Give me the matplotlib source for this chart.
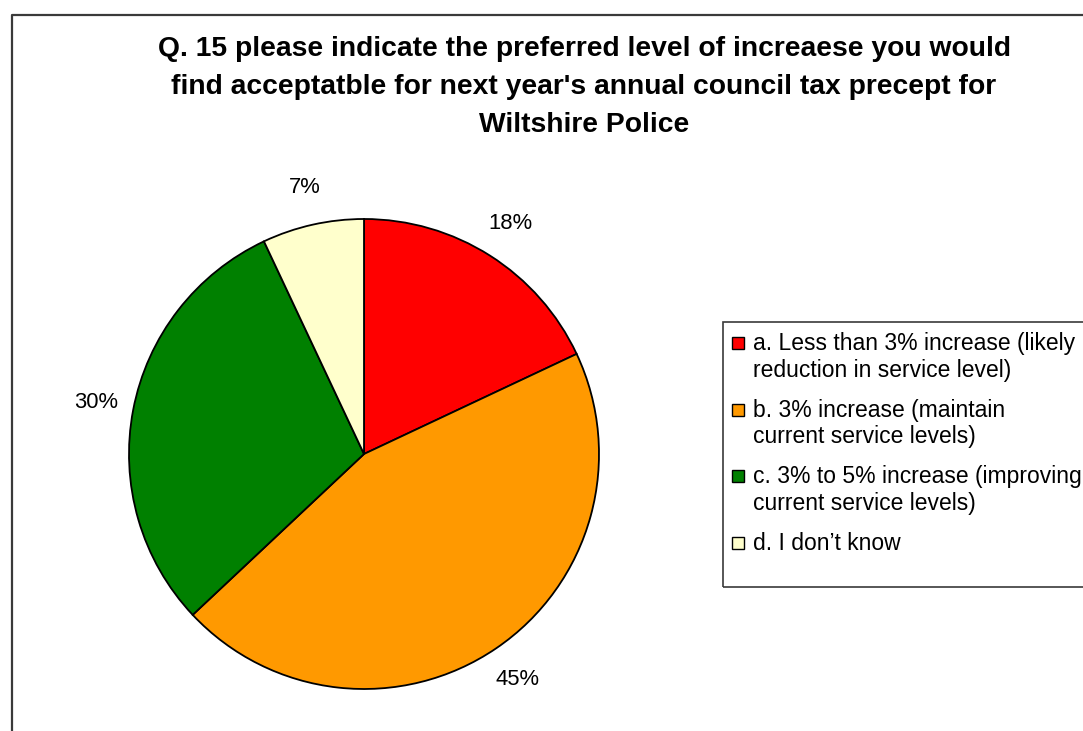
import matplotlib
matplotlib.use("Agg")
import matplotlib.pyplot as plt
from matplotlib.patches import Rectangle
from matplotlib.lines import Line2D

plt.rcParams['font.family'] = ['Liberation Sans', 'DejaVu Sans']

title = ("Q. 15 please indicate the preferred level of increaese you would\n"
         "find acceptatble for next year's annual council tax precept for\n"
         "Wiltshire Police")
categories = [
    "a. Less than 3% increase (likely\nreduction in service level)",
    "b. 3% increase (maintain\ncurrent service levels)",
    "c. 3% to 5% increase (improving\ncurrent service levels)",
    "d. I don\u2019t know",
]
shares = [18, 45, 30, 7]
colors = ["#FF0000", "#FF9900", "#008000", "#FFFFCC"]

W, H = 1083, 731
fig = plt.figure(figsize=(W / 100, H / 100), dpi=100)


def fx(px):
    return px / W


def fy(py):
    return 1 - py / H


# chart area border (runs off the right and bottom edges)
fig.add_artist(Line2D([fx(11.5), fx(11.5), fx(1100)], [fy(760), fy(14.5), fy(14.5)],
                      color="#3a3a3a", lw=1.6))

# title
fig.text(fx(584), fy(87), title, ha="center", va="center", fontsize=20.3,
         fontweight="bold", linespacing=1.6)

# pie
cx, cy, r = 364, 454, 235
ax = fig.add_axes([fx(cx - r), fy(cy + r), 2 * r / W, 2 * r / H])
wedges, texts, autotexts = ax.pie(
    shares, colors=colors, startangle=90, counterclock=False,
    autopct=lambda p: f"{p:.0f}%", pctdistance=1.16,
    wedgeprops=dict(edgecolor="black", linewidth=1.3),
    textprops=dict(fontsize=15.8),
)
ax.set_xlim(-1, 1)
ax.set_ylim(-1, 1)
ax.set_aspect("equal")
ax.axis("off")

# legend box
fig.add_artist(Rectangle((fx(723), fy(587)), fx(1120) - fx(723), fy(322) - fy(587),
                         facecolor="none", edgecolor="#3a3a3a", lw=1.2))

line_h = 27
gap = 12.5
y = 341
for label, col in zip(categories, colors):
    lines = label.split("\n")
    fig.add_artist(Rectangle((fx(732), fy(y + 8)), fx(744) - fx(732), fy(y - 4) - fy(y + 8),
                             facecolor=col, edgecolor="black", lw=1.0))
    for i, ln in enumerate(lines):
        fig.text(fx(753), fy(y + i * line_h), ln, ha="left", va="center_baseline",
                 fontsize=16.5)
    y += len(lines) * line_h + gap

fig.savefig("out.png", dpi=100)
